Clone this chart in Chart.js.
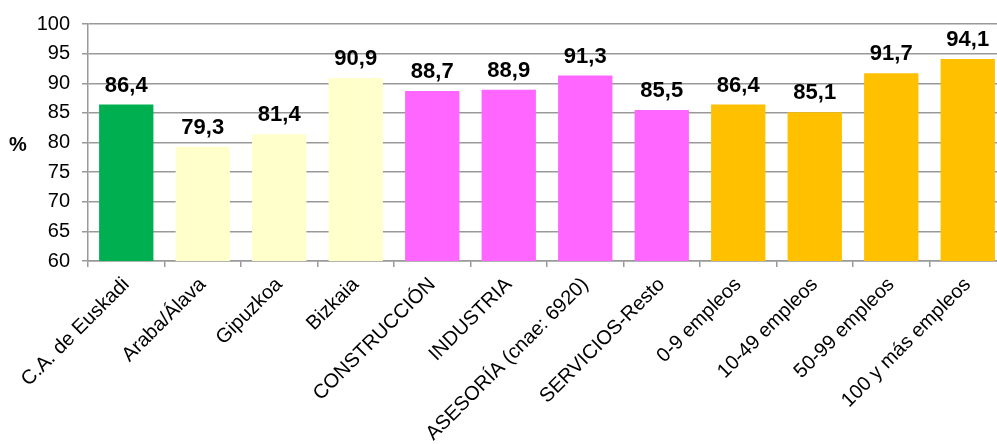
<!DOCTYPE html>
<html lang="es">
<head>
<meta charset="utf-8">
<script src="https://cdn.jsdelivr.net/npm/chart.js@4/dist/chart.umd.min.js"></script>
<style>
  html, body { margin: 0; padding: 0; background: #fff; overflow: hidden; }
  #caja { width: 1010px; height: 444px; position: relative; }
</style>
</head>
<body>
<div id="caja"><canvas id="grafico"></canvas></div>
<script>
// categorías y porcentajes
const categorias = [
    "C.A. de Euskadi", "Araba/Álava", "Gipuzkoa", "Bizkaia",
    "CONSTRUCCIÓN", "INDUSTRIA", "ASESORÍA (cnae: 6920)", "SERVICIOS-Resto",
    "0-9 empleos", "10-49 empleos", "50-99 empleos", "100 y más empleos"
];
const valores = [86.4, 79.3, 81.4, 90.9, 88.7, 88.9, 91.3, 85.5, 86.4, 85.1, 91.7, 94.1];
const grupos = ["total", "territorio", "territorio", "territorio",
    "sector", "sector", "sector", "sector",
    "tamano", "tamano", "tamano", "tamano"];
const coloresGrupo = {
    total: "#00B050",
    territorio: "#FFFFCC",
    sector: "#FF66FF",
    tamano: "#FFC000"
};
const ejeY = { min: 60, max: 100, paso: 5 };

const gris = "#999999";
const fuente = "'Liberation Sans', Arial, sans-serif";

// etiquetas de valor encima de cada barra, con coma decimal
const etiquetasValor = {
    id: "etiquetasValor",
    afterDatasetsDraw(chart) {
        const ctx = chart.ctx;
        const meta = chart.getDatasetMeta(0);
        ctx.save();
        ctx.font = "bold 22px " + fuente;
        ctx.fillStyle = "#000";
        ctx.textAlign = "center";
        ctx.textBaseline = "alphabetic";
        meta.data.forEach((barra, i) => {
            const texto = valores[i].toFixed(1).replace(".", ",");
            ctx.fillText(texto, barra.x, barra.y - 13);
        });
        ctx.restore();
    },
    afterDraw(chart) {
        const ctx = chart.ctx;
        ctx.save();
        ctx.font = "bold 20px " + fuente;
        ctx.fillStyle = "#000";
        ctx.textAlign = "center";
        ctx.textBaseline = "middle";
        ctx.fillText("%", 18, 145);
        ctx.restore();
    }
};

new Chart(document.getElementById("grafico"), {
    type: "bar",
    data: {
        labels: categorias,
        datasets: [{
            data: valores,
            backgroundColor: grupos.map(g => coloresGrupo[g]),
            borderWidth: 0,
            barPercentage: 0.71,
            categoryPercentage: 1
        }]
    },
    options: {
        responsive: true,
        maintainAspectRatio: false,
        animation: false,
        layout: { padding: { top: 23, right: 4, left: 0, bottom: 0 } },
        plugins: {
            legend: { display: false },
            tooltip: { enabled: false }
        },
        scales: {
            x: {
                afterFit(escala) { escala.height = 183; },
                grid: {
                    offset: true,
                    drawOnChartArea: false,
                    drawTicks: true,
                    tickLength: 6,
                    color: gris,
                    lineWidth: 1.5
                },
                border: { color: gris, width: 1.5 },
                ticks: {
                    autoSkip: false,
                    minRotation: 45,
                    maxRotation: 45,
                    padding: 6,
                    color: "#000",
                    font: { family: fuente, size: 20 }
                }
            },
            y: {
                min: ejeY.min,
                max: ejeY.max,
                afterFit(escala) { escala.width = 88; },
                grid: {
                    color: gris,
                    lineWidth: 1.5,
                    tickLength: 6
                },
                border: { color: gris, width: 1.5 },
                ticks: {
                    stepSize: ejeY.paso,
                    padding: 12,
                    color: "#000",
                    font: { family: fuente, size: 20 }
                }
            }
        }
    },
    plugins: [etiquetasValor]
});
</script>
</body>
</html>
